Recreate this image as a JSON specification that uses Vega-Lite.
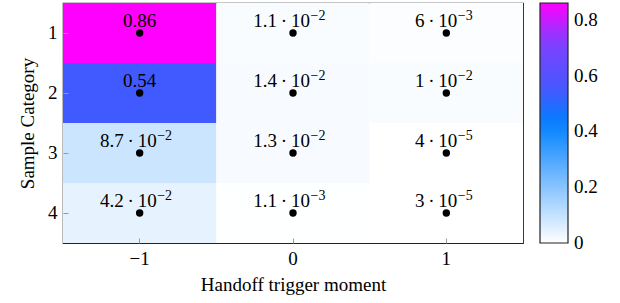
{
  "$schema": "https://vega.github.io/schema/vega-lite/v6.json",
  "width": 460,
  "height": 240,
  "autosize": "none",
  "padding": {"left": 63, "top": 3, "right": 97, "bottom": 60},
  "background": "white",
  "config": {
    "font": "Liberation Serif",
    "view": {"stroke": "#222", "strokeWidth": 1.2},
    "axis": {"grid": false, "domain": false, "labelFont": "Liberation Serif", "titleFont": "Liberation Serif", "labelFontSize": 19, "titleFontSize": 19, "titleFontWeight": "normal", "labelColor": "#000", "titleColor": "#000", "tickColor": "#999", "tickSize": -5, "labelPadding": 11}
  },
  "data": {"values": [
    {"x": -1, "y": 1, "v": 0.86, "m": "0.86", "e": ""},
    {"x": 0, "y": 1, "v": 0.011, "m": "1.1", "e": "−2"},
    {"x": 1, "y": 1, "v": 0.006, "m": "6", "e": "−3"},
    {"x": -1, "y": 2, "v": 0.54, "m": "0.54", "e": ""},
    {"x": 0, "y": 2, "v": 0.014, "m": "1.4", "e": "−2"},
    {"x": 1, "y": 2, "v": 0.01, "m": "1", "e": "−2"},
    {"x": -1, "y": 3, "v": 0.087, "m": "8.7", "e": "−2"},
    {"x": 0, "y": 3, "v": 0.013, "m": "1.3", "e": "−2"},
    {"x": 1, "y": 3, "v": 0.00004, "m": "4", "e": "−5"},
    {"x": -1, "y": 4, "v": 0.042, "m": "4.2", "e": "−2"},
    {"x": 0, "y": 4, "v": 0.0011, "m": "1.1", "e": "−3"},
    {"x": 1, "y": 4, "v": 0.00003, "m": "3", "e": "−5"}
  ]},
  "encoding": {
    "x": {"field": "x", "type": "ordinal", "sort": [-1, 0, 1], "scale": {"paddingInner": 0, "paddingOuter": 0}, "axis": {"title": "Handoff trigger moment", "labelAngle": 0, "labelExpr": "replace(datum.label, '-', '−')", "titlePadding": 7}},
    "y": {"field": "y", "type": "ordinal", "sort": [1, 2, 3, 4], "scale": {"paddingInner": 0, "paddingOuter": 0}, "axis": {"title": "Sample Category", "titlePadding": 10}}
  },
  "layer": [
    {
      "mark": {"type": "rect"},
      "encoding": {
        "color": {"field": "v", "type": "quantitative",
          "scale": {"domain": [0, 0.43, 0.54, 0.72, 0.86], "range": ["#ffffff", "#0080ff", "#405aff", "#8040ff", "#ff00ff"], "interpolate": "rgb"},
          "legend": {"title": null, "gradientLength": 240, "gradientThickness": 28, "gradientStrokeColor": "#222", "gradientStrokeWidth": 1.2, "offset": 17, "padding": 0, "labelFontSize": 19, "labelFont": "Liberation Serif", "labelColor": "#000", "values": [0, 0.2, 0.4, 0.6, 0.8], "labelOffset": 6, "labelExpr": "datum.value == 0 ? '0' : format(datum.value, '.1f')",
            "encode": {"labels": {"update": {"baseline": {"value": "middle"}}}}}
        }
      }
    },
    {
      "mark": {"type": "point", "filled": true, "color": "#000", "opacity": 1, "size": 55}
    },
    {
      "transform": [{"filter": "datum.e == ''"}],
      "mark": {"type": "text", "font": "Liberation Serif", "fontSize": 19, "color": "#000", "baseline": "alphabetic", "dy": -6},
      "encoding": {"text": {"field": "m"}}
    },
    {
      "transform": [{"filter": "datum.e != '' && length(datum.m) > 1"}, {"calculate": "datum.m + '\u2009·\u200910'", "as": "mt"}],
      "mark": {"type": "text", "font": "Liberation Serif", "fontSize": 19, "color": "#000", "baseline": "alphabetic", "align": "right", "dx": 17, "dy": -6},
      "encoding": {"text": {"field": "mt"}}
    },
    {
      "transform": [{"filter": "datum.e != '' && length(datum.m) > 1"}],
      "mark": {"type": "text", "font": "Liberation Serif", "fontSize": 14, "color": "#000", "baseline": "alphabetic", "align": "left", "dx": 17.5, "dy": -13},
      "encoding": {"text": {"field": "e"}}
    },
    {
      "transform": [{"filter": "datum.e != '' && length(datum.m) == 1"}, {"calculate": "datum.m + '\u2009·\u200910'", "as": "mt"}],
      "mark": {"type": "text", "font": "Liberation Serif", "fontSize": 19, "color": "#000", "baseline": "alphabetic", "align": "right", "dx": 11, "dy": -6},
      "encoding": {"text": {"field": "mt"}}
    },
    {
      "transform": [{"filter": "datum.e != '' && length(datum.m) == 1"}],
      "mark": {"type": "text", "font": "Liberation Serif", "fontSize": 14, "color": "#000", "baseline": "alphabetic", "align": "left", "dx": 11.5, "dy": -13},
      "encoding": {"text": {"field": "e"}}
    }
  ]
}
